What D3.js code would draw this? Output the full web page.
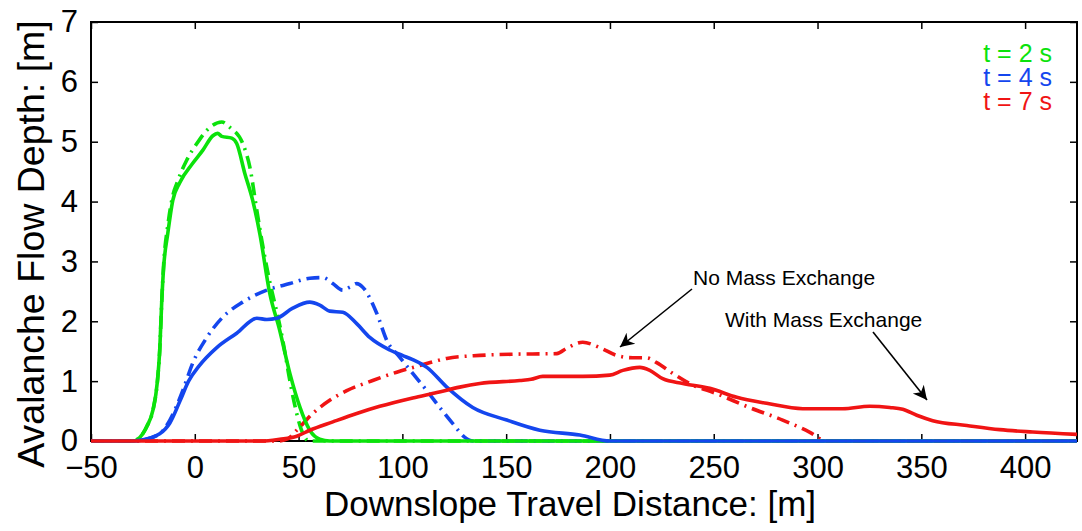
<!DOCTYPE html>
<html lang="en">
<head>
<meta charset="UTF-8">
<title>Avalanche Flow Depth</title>
<script src="https://d3js.org/d3.v7.min.js"></script>
<style>
  body { margin: 0; background: #fff; }
  svg text { font-family: "Liberation Sans", Arial, Helvetica, sans-serif; fill: #000; }
</style>
</head>
<body>
<svg id="chart" width="1082" height="531"></svg>
<script>
// ---- data ----
var xTicks = [-50, 0, 50, 100, 150, 200, 250, 300, 350, 400];
var yTicks = [0, 1, 2, 3, 4, 5, 6, 7];
var legendLabels = ["t = 2 s", "t = 4 s", "t = 7 s"];

// t = 2 s
var t2WithX = [-50, -30, -26.5, -23, -20.2, -18, -16.9, -15.9, -15, -13, -10.6, -7.2, -1, 3.9, 8.7, 11, 13, 17.8, 20.2, 24.1, 27.9, 31.3, 36.1, 40.9, 45.8, 50.6, 55.4, 60.2, 65, 425];
var t2WithY = [0, 0, 0.06, 0.25, 0.51, 1.0, 1.51, 2.35, 2.9, 3.47, 4.02, 4.32, 4.64, 4.86, 5.1, 5.14, 5.09, 5.06, 4.97, 4.47, 4.02, 3.47, 2.47, 1.85, 1.13, 0.57, 0.18, 0.03, 0, 0];
var t2NoX = [-50, -30, -26.5, -23, -20.2, -18, -16.9, -15.9, -15, -13, -10.6, -8.7, -3.9, 1, 5.8, 13, 16.9, 23.1, 26.5, 29.9, 32.3, 34.7, 42.4, 45.8, 49.1, 52, 55, 425];
var t2NoY = [0, 0, 0.06, 0.25, 0.51, 1.0, 1.51, 2.35, 2.95, 3.6, 4.1, 4.3, 4.69, 4.97, 5.19, 5.33, 5.24, 4.97, 4.58, 3.85, 3.35, 2.9, 1.68, 1.01, 0.46, 0.13, 0, 0];

// t = 4 s
var t4WithX = [-50, -30, -26.5, -16.9, -12, -7, -3, 2, 10.6, 20.2, 29.9, 34.7, 39.5, 47.2, 55.4, 60.2, 65, 71.3, 78, 84.3, 93.9, 100, 105, 111.8, 121.4, 133.9, 150.3, 166.2, 185.5, 200, 425];
var t4WithY = [0, 0, 0.01, 0.12, 0.3, 0.68, 1.0, 1.25, 1.56, 1.8, 2.05, 2.03, 2.05, 2.22, 2.32, 2.27, 2.17, 2.15, 1.96, 1.73, 1.52, 1.43, 1.36, 1.23, 0.9, 0.56, 0.35, 0.18, 0.1, 0, 0];
var t4NoX = [-50, -30, -26.5, -16.9, -12, -5.8, -1, 5.8, 13.5, 23.1, 34.7, 45.8, 55.4, 61.7, 66.5, 71.3, 74.7, 78, 80.9, 87.7, 92.5, 98.7, 105, 111.8, 118, 124.3, 130.1, 134, 425];
var t4NoY = [0, 0, 0.01, 0.12, 0.35, 0.84, 1.3, 1.73, 2.07, 2.32, 2.52, 2.63, 2.72, 2.73, 2.63, 2.52, 2.57, 2.63, 2.57, 2.13, 1.68, 1.4, 1.13, 0.84, 0.56, 0.29, 0.06, 0, 0];

// t = 7 s
var t7WithX = [-50, 32, 40.9, 49.1, 55.4, 66.5, 78, 89.1, 105, 116.6, 127.6, 137.3, 156.6, 162, 167.6, 186.9, 199.9, 206.2, 214.4, 219.2, 225.4, 235.1, 248.1, 261.1, 275.5, 292.9, 312.1, 325.1, 334.8, 341, 347.8, 355.5, 371.9, 387.8, 403.7, 425];
var t7WithY = [0, 0, 0.03, 0.08, 0.18, 0.32, 0.46, 0.58, 0.72, 0.81, 0.9, 0.96, 1.01, 1.03, 1.08, 1.08, 1.1, 1.18, 1.23, 1.18, 1.04, 0.96, 0.88, 0.73, 0.63, 0.54, 0.54, 0.58, 0.56, 0.53, 0.43, 0.34, 0.26, 0.19, 0.15, 0.11];
var t7NoX = [-50, 40, 45, 49.1, 56.8, 65, 73.2, 85.7, 97.3, 108.4, 121.4, 137.3, 153.2, 174.4, 179.2, 186.9, 195.1, 203.3, 211, 217.7, 222.5, 230.2, 238.4, 251.4, 267.2, 283.2, 296.1, 304.3, 425];
var t7NoY = [0, 0, 0.04, 0.18, 0.46, 0.68, 0.84, 1.01, 1.15, 1.26, 1.38, 1.43, 1.45, 1.46, 1.55, 1.65, 1.56, 1.43, 1.39, 1.39, 1.31, 1.13, 0.96, 0.79, 0.56, 0.35, 0.15, 0, 0];

var green = "#0be20b", blue = "#1446ee", red = "#f01414";

// draw order: dash-dot runs first, solid runs on top
var series = [
  {x: t2NoX, y: t2NoY, color: green, dashed: true},
  {x: t4NoX, y: t4NoY, color: blue, dashed: true},
  {x: t7NoX, y: t7NoY, color: red, dashed: true},
  {x: t2WithX, y: t2WithY, color: green, dashed: false},
  {x: t4WithX, y: t4WithY, color: blue, dashed: false},
  {x: t7WithX, y: t7WithY, color: red, dashed: false}
];

var svg = d3.select("#chart");
var margin = {left: 91, right: 5, top: 22, bottom: 90};
var width = +svg.attr("width"), height = +svg.attr("height");
var x0 = margin.left, x1 = width - margin.right;
var y0 = margin.top, y1 = height - margin.bottom;

var x = d3.scaleLinear().domain([-50, 425]).range([x0, x1]);
var y = d3.scaleLinear().domain([0, 7]).range([y1, y0]);

// axes, MATLAB style box with inward ticks
var fmt = function(d) { return d < 0 ? "\u2212" + Math.abs(d) : d; };
var tickLen = 7;

svg.append("g").attr("transform", "translate(0," + y1 + ")")
  .call(d3.axisBottom(x).tickValues(xTicks).tickSizeInner(-tickLen).tickSizeOuter(0).tickPadding(tickLen + 8).tickFormat(fmt))
  .call(function(g) {
    g.select(".domain").remove();
    g.selectAll("text").attr("font-size", 31).attr("font-family", "Liberation Sans, Arial, sans-serif");
  });
svg.append("g").attr("transform", "translate(0," + y0 + ")")
  .call(d3.axisTop(x).tickValues(xTicks).tickSizeInner(-tickLen).tickSizeOuter(0).tickFormat(""))
  .call(function(g) { g.select(".domain").remove(); });
svg.append("g").attr("transform", "translate(" + x0 + ",0)")
  .call(d3.axisLeft(y).tickValues(yTicks).tickSizeInner(-tickLen).tickSizeOuter(0).tickPadding(tickLen + 6).tickFormat(d3.format("d")))
  .call(function(g) {
    g.select(".domain").remove();
    g.selectAll("text").attr("font-size", 31).attr("font-family", "Liberation Sans, Arial, sans-serif");
  });
svg.append("g").attr("transform", "translate(" + x1 + ",0)")
  .call(d3.axisRight(y).tickValues(yTicks).tickSizeInner(-tickLen).tickSizeOuter(0).tickFormat(""))
  .call(function(g) { g.select(".domain").remove(); });

svg.selectAll(".tick line").attr("stroke", "#000").attr("stroke-width", 1.5);

svg.append("rect")
  .attr("x", x0).attr("y", y0).attr("width", x1 - x0).attr("height", y1 - y0)
  .attr("fill", "none").attr("stroke", "#000").attr("stroke-width", 2);

// curves go over the box, clipped a little outside it so the zero runs show
svg.append("defs").append("clipPath").attr("id", "clip")
  .append("rect").attr("x", x0).attr("y", y0 - 3).attr("width", x1 - x0).attr("height", y1 - y0 + 6);

var line = d3.line()
  .x(function(d) { return x(d[0]); })
  .y(function(d) { return y(d[1]); })
  .curve(d3.curveMonotoneX);

svg.append("g").attr("clip-path", "url(#clip)")
  .selectAll("path")
  .data(series)
  .enter().append("path")
  .attr("d", function(s) { return line(s.x.map(function(v, i) { return [v, s.y[i]]; })); })
  .attr("fill", "none")
  .attr("stroke", function(s) { return s.color; })
  .attr("stroke-width", 3.6)
  .attr("stroke-linejoin", "round")
  .attr("stroke-dasharray", function(s) { return s.dashed ? "13,6,2,6" : null; });

// axis titles
svg.append("text")
  .attr("x", 570).attr("y", 516)
  .attr("text-anchor", "middle").attr("font-size", 35)
  .text("Downslope Travel Distance: [m]");
svg.append("text")
  .attr("transform", "translate(44,244) rotate(-90)")
  .attr("text-anchor", "middle").attr("font-size", 37.5)
  .text("Avalanche Flow Depth: [m]");

// legend
svg.append("g").selectAll("text")
  .data(legendLabels)
  .enter().append("text")
  .attr("x", 1052)
  .attr("y", function(d, i) { return 62 + i * 24; })
  .attr("text-anchor", "end")
  .attr("font-size", 25)
  .style("fill", function(d, i) { return [green, blue, red][i]; })
  .text(function(d) { return d; });

// annotations
svg.append("defs").append("marker")
  .attr("id", "arrow").attr("viewBox", "0 0 10 10")
  .attr("refX", 10).attr("refY", 5)
  .attr("markerWidth", 16).attr("markerHeight", 14)
  .attr("markerUnits", "userSpaceOnUse")
  .attr("orient", "auto")
  .append("path").attr("d", "M0,0 L10,5 L0,10 L3,5 z").attr("fill", "#000");

svg.append("text").attr("x", 693).attr("y", 285).attr("font-size", 21).text("No Mass Exchange");
svg.append("text").attr("x", 725).attr("y", 327).attr("font-size", 21).text("With Mass Exchange");

svg.append("line")
  .attr("x1", 692).attr("y1", 289).attr("x2", 620).attr("y2", 347)
  .attr("stroke", "#000").attr("stroke-width", 1.6).attr("marker-end", "url(#arrow)");
svg.append("line")
  .attr("x1", 873).attr("y1", 332).attr("x2", 927).attr("y2", 400)
  .attr("stroke", "#000").attr("stroke-width", 1.6).attr("marker-end", "url(#arrow)");
</script>
</body>
</html>
